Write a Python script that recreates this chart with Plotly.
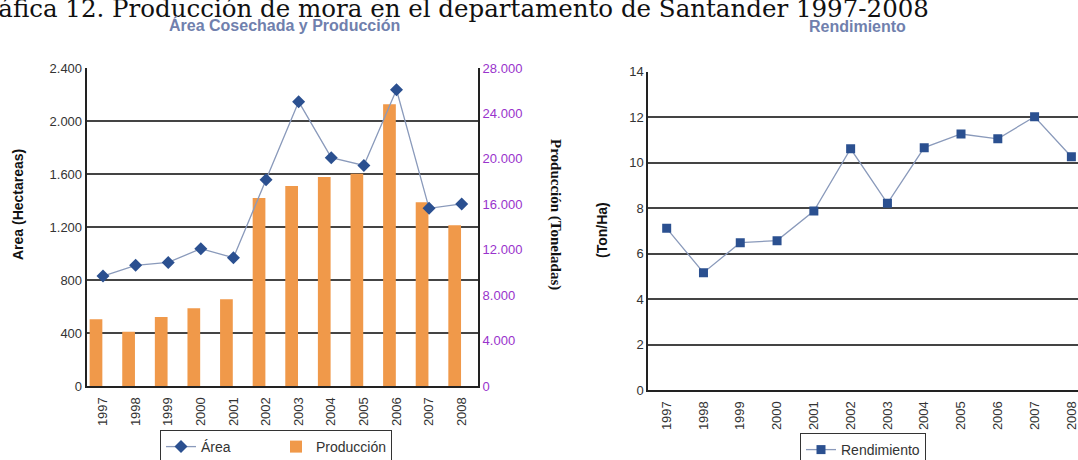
import plotly.graph_objects as go

years = ["1997", "1998", "1999", "2000", "2001", "2002",
         "2003", "2004", "2005", "2006", "2007", "2008"]
area = [830, 911, 933, 1036, 968, 1557, 2146, 1723, 1665, 2236, 1341, 1374]
produccion = [5870, 4785, 6075, 6838, 7631, 16553, 17610, 18403, 18695, 24800, 16172, 14147]
rendimiento = [7.11, 5.16, 6.48, 6.57, 7.87, 10.61, 8.21, 10.66, 11.26, 11.05, 12.02, 10.26]

# the source is a cropped image: the figure is a bit taller than the window
# and the overflow is hidden, so the legends are cut at the bottom
W, H = 1078, 474
FONT = "Liberation Sans, Arial, sans-serif"
NAVY = "#2b5090"
LINE = "#8a9abb"
ORANGE = "#f0994a"
GRID = "#444444"
PURPLE = "#9933cc"


def px(x):
    return x / W


def py(y):
    return (H - y) / H


fig = go.Figure()

# left chart: bars on base axis (Producción), line on overlay axis (Área)
fig.add_trace(go.Bar(
    x=years, y=produccion, name="Producción",
    marker=dict(color=ORANGE, line=dict(width=0)),
    width=0.39, offset=-0.41,
    xaxis="x", yaxis="y", legend="legend", legendrank=2,
))
fig.add_trace(go.Scatter(
    x=years, y=area, name="Área", mode="lines+markers",
    line=dict(color=LINE, width=1.3),
    marker=dict(symbol="diamond", size=10, color=NAVY),
    xaxis="x", yaxis="y2", legend="legend", legendrank=1,
))

# right chart
fig.add_trace(go.Scatter(
    x=years, y=rendimiento, name="Rendimiento", mode="lines+markers",
    line=dict(color=LINE, width=1.3),
    marker=dict(symbol="square", size=9, color=NAVY),
    xaxis="x2", yaxis="y3", legend="legend2",
))

xtickfont = dict(family=FONT, size=13, color="#333333")
ytickfont = dict(family=FONT, size=13, color="#333333")

fig.update_layout(
    width=W, height=H,
    margin=dict(l=0, r=0, t=0, b=0),
    paper_bgcolor="white", plot_bgcolor="white",
    separators=",.",
    showlegend=True,
    xaxis=dict(
        domain=[px(86.7), px(478)], anchor="y", type="category",
        range=[-0.5, 11.5], tickangle=-90, tickfont=xtickfont,
        ticklabelstandoff=4,
        showline=True, linecolor="#222222", linewidth=2,
        showgrid=False, ticks="", automargin=False,
    ),
    yaxis=dict(
        domain=[py(386), py(68)], anchor="x", side="right",
        range=[0, 28000], dtick=4000, tickformat=",d",
        tickfont=dict(family=FONT, size=13, color=PURPLE),
        showgrid=False, zeroline=False, automargin=False,
        showline=True, linecolor="#222222", linewidth=2,
    ),
    yaxis2=dict(
        overlaying="y", anchor="x", side="left",
        range=[0, 2400], dtick=400, tickformat=",d",
        tickfont=ytickfont, automargin=False,
        showgrid=True, gridcolor=GRID, gridwidth=1.5, zeroline=False,
        showline=True, linecolor="#222222", linewidth=2,
    ),
    xaxis2=dict(
        domain=[px(648.3), 1.0], anchor="y3", type="category",
        range=[-0.5, 11.18], tickangle=-90, tickfont=xtickfont,
        ticklabelstandoff=4,
        showline=True, linecolor="#222222", linewidth=2,
        showgrid=False, ticks="", automargin=False,
    ),
    yaxis3=dict(
        domain=[py(390), py(71.7)], anchor="x2",
        range=[0, 14], dtick=2, tickfont=ytickfont, automargin=False,
        showgrid=True, gridcolor=GRID, gridwidth=1.5, zeroline=False,
        showline=True, linecolor="#222222", linewidth=2,
    ),
    legend=dict(
        orientation="h", x=px(160), y=py(430), xanchor="left", yanchor="top",
        bordercolor="#333333", borderwidth=1, bgcolor="white",
        font=dict(family=FONT, size=14, color="#333333"),
        entrywidth=70, traceorder="normal",
    ),
    legend2=dict(
        orientation="h", x=px(800), y=py(433), xanchor="left", yanchor="top",
        bordercolor="#333333", borderwidth=1, bgcolor="white",
        font=dict(family=FONT, size=14, color="#333333"),
    ),
)

annotations = [
    dict(text="Gráfica 12. Producción de mora en el departamento de Santander 1997-2008",
         x=px(931), y=py(8), xanchor="right", yanchor="middle",
         font=dict(family="DejaVu Serif, serif", size=24.5, color="#111111")),
    dict(text="<b>Área Cosechada y Producción</b>", x=px(284), y=py(25),
         xanchor="center", yanchor="middle",
         font=dict(family=FONT, size=16, color="#7080ad")),
    dict(text="<b>Rendimiento</b>", x=px(857), y=py(27),
         xanchor="center", yanchor="middle",
         font=dict(family=FONT, size=16, color="#7080ad")),
    dict(text="<b>Area (Hectareas)</b>", x=px(18), y=py(205), textangle=-90,
         xanchor="center", yanchor="middle",
         font=dict(family=FONT, size=14, color="#111111")),
    dict(text="<b>Producción (Toneladas)</b>", x=px(556), y=py(214), textangle=90,
         xanchor="center", yanchor="middle",
         font=dict(family="Liberation Serif, serif", size=15, color="#111111")),
    dict(text="<b>(Ton/Ha)</b>", x=px(602), y=py(230), textangle=-90,
         xanchor="center", yanchor="middle",
         font=dict(family=FONT, size=14, color="#111111")),
]
for a in annotations:
    a.update(xref="paper", yref="paper", showarrow=False)
fig.update_layout(annotations=annotations)

fig.write_html(
    "out.html",
    config={"displayModeBar": False},
    post_script="document.body.style.margin='0';"
                "document.body.style.overflow='hidden';",
)
